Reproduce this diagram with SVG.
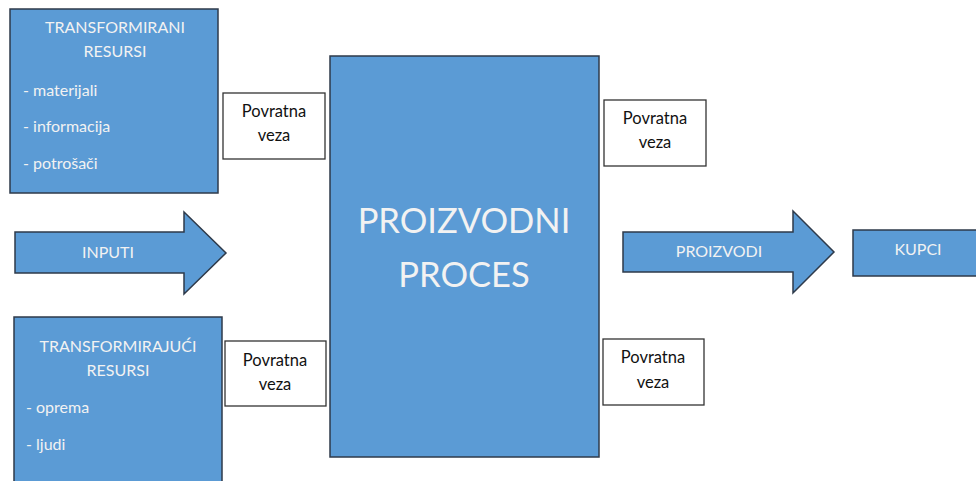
<svg xmlns="http://www.w3.org/2000/svg" width="976" height="481" viewBox="0 0 976 481">
<style>
.blue{fill:#5B9BD5;stroke:#2E3A4A;stroke-width:1.5}
.fb{fill:#fff;stroke:#333;stroke-width:1.3}
.wt{fill:#F2F2F2;font-family:Lato,"Open Sans",sans-serif;font-size:16px}
.c{text-anchor:middle}
.bt{fill:#111;font-family:Lato,"Open Sans",sans-serif;font-size:16.5px;text-anchor:middle}
.big{fill:#F2F2F2;font-family:Lato,"Open Sans",sans-serif;font-size:34.5px;text-anchor:middle}
</style>
<rect width="976" height="481" fill="#fff"/>
<g id="transformirani">
<rect class="blue" x="10" y="9" width="208" height="184"/>
<text class="wt c" x="115" y="33">TRANSFORMIRANI</text>
<text class="wt c" x="115" y="57">RESURSI</text>
<text class="wt" x="23" y="96">- materijali</text>
<text class="wt" x="23" y="132">- informacija</text>
<text class="wt" x="23" y="169">- potrošači</text>
</g>
<g id="transformirajuci">
<rect class="blue" x="14" y="317" width="208" height="175"/>
<text class="wt c" x="118" y="352">TRANSFORMIRAJUĆI</text>
<text class="wt c" x="118" y="376">RESURSI</text>
<text class="wt" x="26" y="413">- oprema</text>
<text class="wt" x="26" y="450">- ljudi</text>
</g>
<g id="connectors">
<g id="inputi">
<polygon class="blue" points="15,232 184,232 184,212 226,253 184,294 184,273 15,273"/>
<text class="wt c" x="108" y="258">INPUTI</text>
</g>
<g id="proizvodi">
<polygon class="blue" points="623,232 793,232 793,211 834,252 793,293 793,272 623,272"/>
<text class="wt c" x="719" y="257">PROIZVODI</text>
</g>
</g>
<g id="proces">
<rect class="blue" x="330" y="56" width="269" height="401"/>
<text class="big" x="464" y="233">PROIZVODNI</text>
<text class="big" x="464" y="287">PROCES</text>
</g>
<g id="kupci">
<rect class="blue" x="853" y="230" width="130" height="46"/>
<text class="wt c" x="918" y="255">KUPCI</text>
</g>
<g id="veza1">
<rect class="fb" x="223" y="93" width="102" height="66"/>
<text class="bt" x="274" y="117">Povratna</text>
<text class="bt" x="274" y="141">veza</text>
</g>
<g id="veza2">
<rect class="fb" x="225" y="341" width="101" height="65"/>
<text class="bt" x="275" y="366">Povratna</text>
<text class="bt" x="275" y="390">veza</text>
</g>
<g id="veza3">
<rect class="fb" x="604" y="100" width="102" height="66"/>
<text class="bt" x="655" y="124">Povratna</text>
<text class="bt" x="655" y="148">veza</text>
</g>
<g id="veza4">
<rect class="fb" x="603" y="339" width="101" height="66"/>
<text class="bt" x="653" y="363">Povratna</text>
<text class="bt" x="653" y="388">veza</text>
</g>
</svg>
